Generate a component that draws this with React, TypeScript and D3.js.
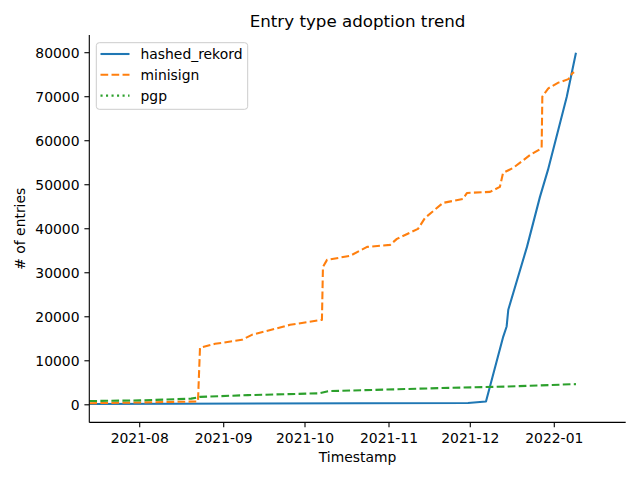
import React from "react";
import * as d3 from "d3";

const xTickLabels = ["2021-08", "2021-09", "2021-10", "2021-11", "2021-12", "2022-01"];
const yTickValues = [0, 10000, 20000, 30000, 40000, 50000, 60000, 70000, 80000];

const hashedRekord: [string, number][] = [
  ["2021-07-13T10:00", 200],
  ["2021-11-30T04:00", 400],
  ["2021-12-06T19:00", 750],
  ["2021-12-13T04:00", 15500],
  ["2021-12-14T10:00", 17800],
  ["2021-12-15T00:30", 21600],
  ["2021-12-21T22:00", 35880],
  ["2021-12-26T17:00", 47240],
  ["2021-12-29T16:00", 53370],
  ["2022-01-02T11:00", 62450],
  ["2022-01-05T14:00", 69950],
  ["2022-01-07T10:00", 75330],
  ["2022-01-09T00:00", 80000],
];

const minisign: [string, number][] = [
  ["2021-07-13T10:00", 350],
  ["2021-08-22T12:00", 750],
  ["2021-08-23T06:00", 12950],
  ["2021-08-28T19:00", 13850],
  ["2021-09-07T17:00", 14760],
  ["2021-09-11T10:00", 15900],
  ["2021-09-25T12:00", 18170],
  ["2021-10-07T06:00", 19300],
  ["2021-10-07T15:00", 31340],
  ["2021-10-09T03:00", 32930],
  ["2021-10-17T14:00", 33840],
  ["2021-10-23T22:00", 35880],
  ["2021-11-01T10:00", 36340],
  ["2021-11-03T22:00", 37700],
  ["2021-11-11T17:00", 39970],
  ["2021-11-14T07:00", 42470],
  ["2021-11-20T22:00", 45870],
  ["2021-11-28T07:00", 46780],
  ["2021-11-29T19:00", 48140],
  ["2021-12-08T07:00", 48370],
  ["2021-12-11T22:00", 49500],
  ["2021-12-13T02:00", 52680],
  ["2021-12-16T19:00", 53810],
  ["2021-12-23T02:00", 56760],
  ["2021-12-27T08:00", 58300],
  ["2021-12-27T14:00", 70000],
  ["2021-12-29T19:00", 71900],
  ["2022-01-02T12:00", 73200],
  ["2022-01-06T05:00", 74000],
  ["2022-01-07T15:00", 75300],
  ["2022-01-08T07:00", 75600],
];

const pgp: [string, number][] = [
  ["2021-07-13T10:00", 850],
  ["2021-08-01T00:00", 1000],
  ["2021-08-20T00:00", 1400],
  ["2021-08-23T06:00", 1800],
  ["2021-09-10T00:00", 2200],
  ["2021-10-06T00:00", 2600],
  ["2021-10-09T12:00", 3100],
  ["2021-11-20T00:00", 3800],
  ["2021-12-15T00:00", 4150],
  ["2022-01-09T00:00", 4700],
];

const seriesNames = ["hashed_rekord", "minisign", "pgp"];

const W = 640;
const H = 480;
const left = 89.3;
const right = 625.7;
const top = 35.1;
const bottom = 422.4;
const font = "DejaVu Sans, sans-serif";

export default function App() {
  React.useEffect(() => {
    document.body.style.margin = "0";
  }, []);

  const parse = (s: string) => new Date(s);
  const x = d3
    .scaleTime()
    .domain([parse("2021-07-13T09:30"), parse("2022-01-27T08:30")])
    .range([left, right]);
  const y = d3.scaleLinear().domain([-4000, 84000]).range([bottom, top]);

  const line = d3
    .line<[string, number]>()
    .x((d) => x(parse(d[0])))
    .y((d) => y(d[1]));

  const lw = 2.08;
  const series = [
    { name: seriesNames[0], data: hashedRekord, color: "#1f77b4", dash: "none", legendDash: "none" },
    { name: seriesNames[1], data: minisign, color: "#ff7f0e", dash: `${3.7 * lw},${1.6 * lw}`, legendDash: `${3.7 * lw},${1.6 * lw}` },
    { name: seriesNames[2], data: pgp, color: "#2ca02c", dash: `${3.7 * lw},${1.6 * lw}`, legendDash: `${1 * lw},${1.65 * lw}` },
  ];

  const fs = 13.9;

  return (
    <svg width={W} height={H} style={{ position: "absolute", left: 0, top: 0, display: "block", background: "#fff" }}>
      <defs>
        <clipPath id="plotclip">
          <rect x={left} y={top} width={right - left} height={bottom - top} />
        </clipPath>
      </defs>
      <rect x={0} y={0} width={W} height={H} fill="#fff" />
      <text x={(left + right) / 2} y={26.5} textAnchor="middle" fontFamily={font} fontSize={16.7} fill="#000">
        Entry type adoption trend
      </text>

      <g clipPath="url(#plotclip)">
        {series.map((s) => (
          <path
            key={s.name}
            d={line(s.data) || ""}
            fill="none"
            stroke={s.color}
            strokeWidth={lw}
            strokeDasharray={s.dash}
            strokeLinejoin="round"
          />
        ))}
      </g>

      {/* spines */}
      <line x1={left} x2={left} y1={top} y2={bottom} stroke="#000" strokeWidth={1.1} />
      <line x1={left} x2={right} y1={bottom} y2={bottom} stroke="#000" strokeWidth={1.1} />

      {/* x ticks */}
      {xTickLabels.map((t) => {
        const px = x(parse(t + "-01T00:00"));
        return (
          <g key={t}>
            <line x1={px} x2={px} y1={bottom} y2={bottom + 4.9} stroke="#000" strokeWidth={1.1} />
            <text x={px} y={bottom + 20.5} textAnchor="middle" fontFamily={font} fontSize={fs} fill="#000">
              {t}
            </text>
          </g>
        );
      })}
      <text x={(left + right) / 2} y={462} textAnchor="middle" fontFamily={font} fontSize={fs} fill="#000">
        Timestamp
      </text>

      {/* y ticks */}
      {yTickValues.map((v) => {
        const py = y(v);
        return (
          <g key={v}>
            <line x1={left - 4.9} x2={left} y1={py} y2={py} stroke="#000" strokeWidth={1.1} />
            <text x={left - 9.8} y={py + 5} textAnchor="end" fontFamily={font} fontSize={fs} fill="#000">
              {v}
            </text>
          </g>
        );
      })}
      <text
        transform={`translate(25,${(top + bottom) / 2}) rotate(-90)`}
        textAnchor="middle"
        fontFamily={font}
        fontSize={fs}
        fill="#000"
      >
        # of entries
      </text>

      {/* legend */}
      <rect x={96.3} y={42.7} width={151.4} height={66.6} rx={3} ry={3} fill="#fff" fillOpacity={0.8} stroke="#cccccc" strokeWidth={1} />
      {series.map((s, i) => {
        const ly = 54 + i * 20.8;
        return (
          <g key={s.name}>
            <line x1={100.5} x2={129.5} y1={ly} y2={ly} stroke={s.color} strokeWidth={lw} strokeDasharray={s.legendDash} />
            <text x={140.5} y={ly + 5} fontFamily={font} fontSize={fs} fill="#000">
              {s.name}
            </text>
          </g>
        );
      })}
    </svg>
  );
}
